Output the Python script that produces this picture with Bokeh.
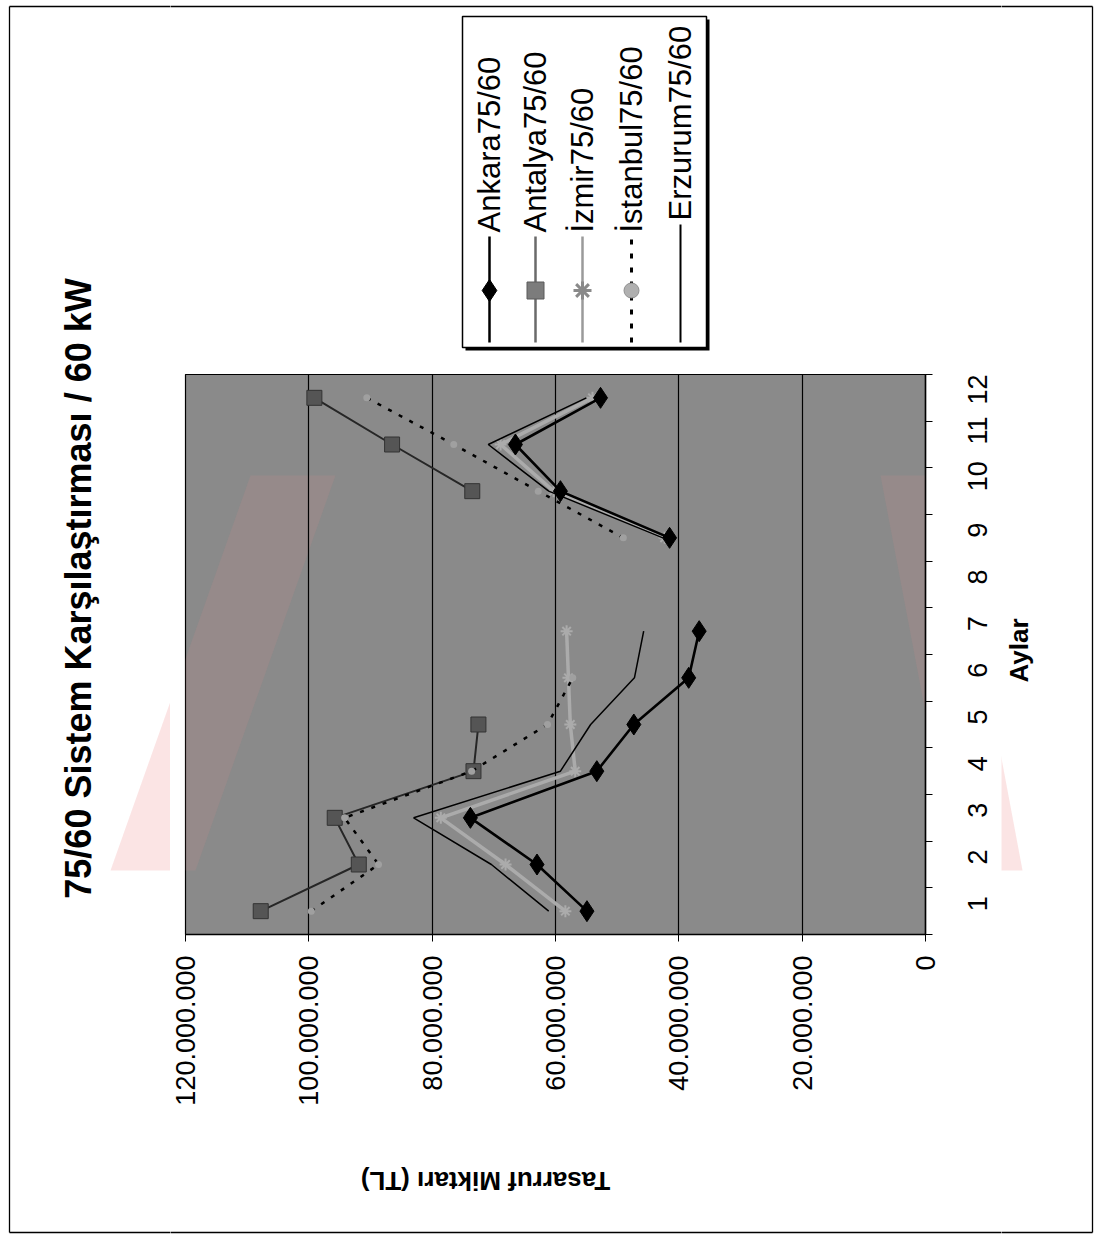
import math
from bokeh.plotting import figure
from bokeh.layouts import row, column
from bokeh.models import Range1d, FixedTicker, ColumnDataSource
from bokeh.core.properties import value
from bokeh.embed import file_html
from bokeh.resources import INLINE

# ---------------- data ----------------
months = [1, 2, 3, 4, 5, 6, 7, 8, 9, 10, 11, 12]
month_labels = ["1", "2", "3", "4", "5", "6", "7", "8", "9", "10", "11", "12"]
value_ticks = [0, 20000000, 40000000, 60000000, 80000000, 100000000, 120000000]
value_tick_labels = ["0", "20.000.000", "40.000.000", "60.000.000",
                     "80.000.000", "100.000.000", "120.000.000"]
series_names = ["Ankara75/60", "Antalya75/60", "İzmir75/60", "İstanbul75/60", "Erzurum75/60"]

ankara = [54900000, 63000000, 73800000, 53300000, 47300000, 38400000, 36700000,
          None, 41500000, 59200000, 66500000, 52700000]
antalya = [107800000, 91900000, 95800000, 73300000, 72500000, None, None,
           None, None, 73500000, 86500000, 99100000]
izmir = [58400000, 68100000, 78600000, 56800000, 57600000, 57900000, 58200000,
         None, 42300000, 60300000, 68900000, 54000000]
istanbul = [99600000, 88700000, 94200000, 73600000, 61300000, 57200000, None,
            None, 49000000, 62800000, 76500000, 90600000]
erzurum = [61100000, 70400000, 83000000, 59200000, 54300000, 47200000, 45700000,
           None, 42600000, 61100000, 70900000, 55000000]

title_text = "75/60 Sistem Karşılaştırması / 60 kW"
x_title = "Aylar"
y_title = "Tasarruf Miktarı (TL)"

FONT = "Liberation Sans"


def nan(v):
    return [float("nan") if a is None else float(a) for a in v]


src = ColumnDataSource(dict(
    month=months,
    ankara=nan(ankara), antalya=nan(antalya), izmir=nan(izmir),
    istanbul=nan(istanbul), erzurum=nan(erzurum)))

# ---------------- page geometry (px) ----------------
PW, PH = 1100, 1240
LEFT_W = 170          # left strip (title)
TOP_H = 374           # top strip (legend)
FRAME_L, FRAME_R = 185, 925
FRAME_T, FRAME_B = 374, 934
MAIN_R = 1001         # right edge of main figure
MAIN_B = 1134         # bottom edge of main figure

# pale red scan watermark (page px)
WM = [([110, 195, 335, 250], [870, 870, 475, 475]),
      ([880, 948, 1022, 955], [475, 475, 870, 870])]


def deco(x0, x1, y0, y1):
    f = figure(width=x1 - x0, height=y1 - y0,
               x_range=Range1d(x0, x1), y_range=Range1d(-y1, -y0),
               x_axis_location=None, y_axis_location=None,
               min_border=0, toolbar_location=None, output_backend="svg")
    f.outline_line_color = None
    f.background_fill_color = "white"
    f.border_fill_color = "white"
    f.grid.visible = False
    for xs_, ys_ in WM:
        f.patch(xs_, [-v for v in ys_], fill_color="#f2a5a5", fill_alpha=0.3,
                line_color=None)
    # outer border of the scanned chart
    f.segment(x0=[9, 9, 1092, 9], y0=[-6, -6, -6, -1232],
              x1=[9, 1092, 1092, 1092], y1=[-1232, -6, -1232, -1232],
              line_color="black", line_width=1.3)
    return f


# ---------------- main chart (rotated 90 deg CCW) ----------------
p = figure(width=MAIN_R - LEFT_W, height=MAIN_B - TOP_H, output_backend="svg",
           toolbar_location=None,
           x_range=Range1d(120000000, 0), y_range=Range1d(0.5, 12.5),
           x_axis_location="below", y_axis_location="right",
           min_border_left=FRAME_L - LEFT_W, min_border_right=MAIN_R - FRAME_R,
           min_border_top=0, min_border_bottom=MAIN_B - FRAME_B)
p.background_fill_color = "#8a8a8a"
p.border_fill_color = "white"
p.outline_line_color = "black"
p.outline_line_width = 1.2


def to_val(X):
    return (FRAME_R - X) * 120000000 / (FRAME_R - FRAME_L)


def to_month(Y):
    return 0.5 + (FRAME_B - Y) * 12 / (FRAME_B - FRAME_T)


for xs_, ys_ in WM:
    p.patch([to_val(v) for v in xs_], [to_month(v) for v in ys_],
            fill_color="#e88a8a", fill_alpha=0.13, line_color=None, level="underlay")

xa = p.xaxis[0]
xa.ticker = FixedTicker(ticks=value_ticks)
xa.major_label_overrides = {t: s for t, s in zip(value_ticks, value_tick_labels)}
xa.major_label_orientation = math.pi / 2
xa.major_label_text_font = FONT
xa.major_label_text_font_size = "27px"
xa.major_label_text_color = "black"
xa.major_label_standoff = 14
xa.axis_line_color = "black"
xa.axis_line_width = 1.5
xa.major_tick_line_color = "black"
xa.major_tick_out = 7
xa.major_tick_in = 0
xa.minor_tick_line_color = None

ya = p.yaxis[0]
ya.ticker = FixedTicker(ticks=months, minor_ticks=[m + 0.5 for m in [0] + months])
ya.major_label_overrides = {m: s for m, s in zip(months, month_labels)}
ya.major_label_orientation = math.pi / 2
ya.major_label_text_font = FONT
ya.major_label_text_font_size = "27px"
ya.major_label_text_color = "black"
ya.major_label_standoff = 45
ya.axis_line_color = "black"
ya.axis_line_width = 1.5
ya.major_tick_line_color = None
ya.minor_tick_line_color = "black"
ya.minor_tick_out = 7
ya.minor_tick_in = 0

p.xgrid.ticker = FixedTicker(ticks=value_ticks)
p.xgrid.grid_line_color = "black"
p.xgrid.grid_line_width = 1.2
p.ygrid.grid_line_color = None

p.line("izmir", "month", source=src, line_color="#ababab", line_width=3.5)
p.scatter("izmir", "month", source=src, marker="asterisk", size=12,
          line_color="#ababab", line_width=2)

p.line("erzurum", "month", source=src, line_color="black", line_width=1.5)

p.line("antalya", "month", source=src, line_color="#262626", line_width=2)
p.scatter("antalya", "month", source=src, marker="square", size=15,
          fill_color="#555555", line_color="#333333")

p.line("istanbul", "month", source=src, line_color="black", line_width=2.5,
       line_dash="4 8")
p.scatter("istanbul", "month", source=src, marker="circle", size=7,
          fill_color="#a0a0a0", line_color=None)

p.line("ankara", "month", source=src, line_color="black", line_width=2.6)
p.scatter("ankara", "month", source=src, marker="diamond", size=21,
          fill_color="black", line_color="black")

# ---------------- left strip: title ----------------
left = deco(0, LEFT_W, 0, PH)
left.text(x=[78], y=[-588], text=[title_text], angle=math.pi / 2,
          text_align="center", text_baseline="middle", text_font=value(FONT),
          text_font_style="bold", text_font_size="36px", text_color="black")

# ---------------- top strip: legend ----------------
top = deco(LEFT_W, MAIN_R, 0, TOP_H)
LX0, LX1, LY0, LY1 = 462, 706, 16, 347
top.quad(left=[LX0 + 3], right=[LX1 + 3], top=[-(LY0 + 3)], bottom=[-(LY1 + 3)],
         fill_color="black", line_color=None)
top.quad(left=[LX0], right=[LX1], top=[-LY0], bottom=[-LY1],
         fill_color="white", line_color="black", line_width=1.5)

entry_x = [489, 535, 582, 631, 680]
line_top = [236, 236, 236, 236, 224]
text_start = [232, 232, 232, 232, 220]
line_colors = ["black", "#6a6a6a", "#9a9a9a", "black", "black"]
line_dashes = ["solid", "solid", "solid", "5 9", "solid"]
line_widths = [2.5, 2.5, 2.5, 3, 2]
marker_y = 290
for i in range(5):
    top.segment(x0=[entry_x[i]], y0=[-342], x1=[entry_x[i]], y1=[-line_top[i]],
                line_color=line_colors[i], line_width=line_widths[i],
                line_dash=line_dashes[i])
top.scatter(x=[entry_x[0]], y=[-marker_y], marker="diamond", size=22,
            fill_color="black", line_color="black")
top.scatter(x=[entry_x[1]], y=[-marker_y], marker="square", size=17,
            fill_color="#7c7c7c", line_color="#5a5a5a")
top.scatter(x=[entry_x[2]], y=[-marker_y], marker="asterisk", size=18,
            line_color="#8a8a8a", line_width=3)
top.scatter(x=[entry_x[3]], y=[-marker_y], marker="circle", size=15,
            fill_color="#b0b0b0", line_color="#909090")
top.text(x=entry_x, y=[-v for v in text_start], text=series_names,
         angle=math.pi / 2, text_align="left", text_baseline="middle",
         text_font=value(FONT), text_font_size="31px", text_color="black")

# ---------------- bottom strip: y title ----------------
bottom = deco(LEFT_W, MAIN_R, MAIN_B, PH)
bottom.text(x=[485], y=[-1180], text=[y_title], angle=math.pi,
            text_align="center", text_baseline="middle", text_font=value(FONT),
            text_font_style="bold", text_font_size="26px", text_color="black")

# ---------------- right strip: x title ----------------
right = deco(MAIN_R, PW, 0, PH)
right.text(x=[1018], y=[-650], text=[x_title], angle=math.pi / 2,
           text_align="center", text_baseline="middle", text_font=value(FONT),
           text_font_style="bold", text_font_size="26px", text_color="black")

layout = row(left, column(top, row(p), bottom), right)
open("out.html", "w").write(file_html(layout, INLINE))
